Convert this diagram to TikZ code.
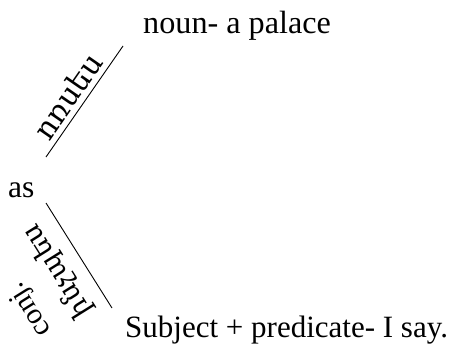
\documentclass[tikz,border=0pt]{standalone}
\usepackage{fontspec}
\setmainfont{Liberation Serif}
\newfontfamily\armfont{DejaVu Serif}
\tikzset{
  lbl/.style={inner sep=0pt, font=\fontsize{31.5}{36}\selectfont},
  armlbl/.style={inner sep=0pt, font=\armfont\fontsize{30}{34}\selectfont},
  rule/.style={line width=0.9pt, black}
}
\begin{document}
\begin{tikzpicture}[x=1pt,y=1pt]
\useasboundingbox (0,0) rectangle (462,346);
% pixel coords: (x, 346-y)
\coordinate (u1) at (46,189);
\coordinate (u2) at (123,300);
\coordinate (l1) at (46,143);
\coordinate (l2) at (112,38);
\draw[rule] (u1) -- (u2);
\draw[rule] (l1) -- (l2);
\node[lbl, anchor=base west, font=\fontsize{32.2}{36}\selectfont] (noun) at (143,312.5) {noun- a palace};
\node[lbl, anchor=base west] (as) at (8,149) {as};
\node[lbl, anchor=base west, font=\fontsize{31}{36}\selectfont] (subj) at (125,8.5) {Subject + predicate- I say.};
\node[armlbl, rotate=55.3] (palace) at (67.5,250) {ոռսես};
\node[armlbl, rotate=122, font=\armfont\fontsize{27.5}{32}\selectfont] (inch) at (57.5,75) {ինչպես};
\node[lbl, rotate=122, font=\fontsize{29.5}{34}\selectfont] (conj) at (30,37) {conj.};
\end{tikzpicture}
\end{document}
